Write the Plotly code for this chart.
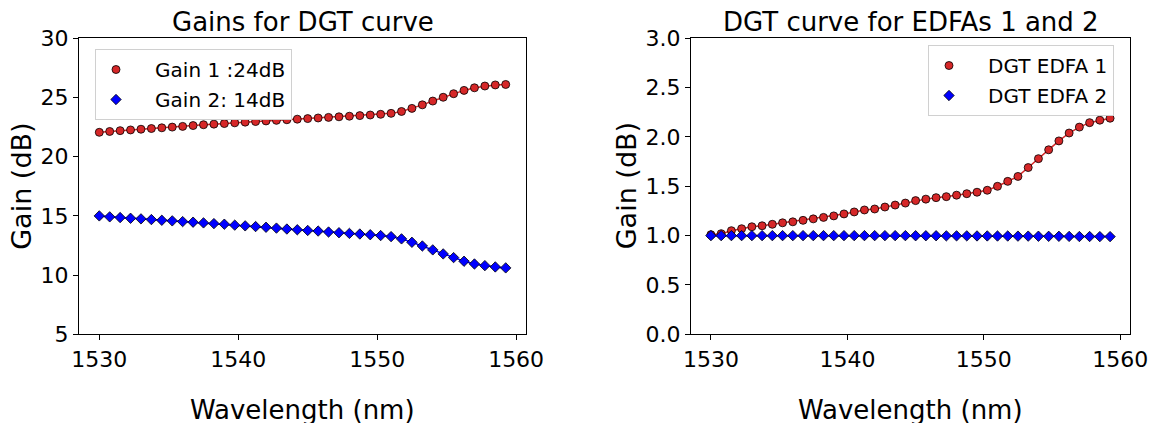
import plotly.graph_objects as go

W, H = 1156, 423

wavelength = [1530.0, 1530.75, 1531.5, 1532.25, 1533.0, 1533.75, 1534.5, 1535.25,
              1536.0, 1536.75, 1537.5, 1538.25, 1539.0, 1539.75, 1540.5, 1541.25,
              1542.0, 1542.75, 1543.5, 1544.25, 1545.0, 1545.75, 1546.5, 1547.25,
              1548.0, 1548.75, 1549.5, 1550.25, 1551.0, 1551.75, 1552.5, 1553.25,
              1554.0, 1554.75, 1555.5, 1556.25, 1557.0, 1557.75, 1558.5, 1559.25]

gain1 = [22.06, 22.13, 22.2, 22.26, 22.32, 22.38, 22.44, 22.5, 22.56, 22.63,
         22.7, 22.75, 22.8, 22.86, 22.92, 22.97, 23.02, 23.07, 23.12, 23.17,
         23.22, 23.27, 23.32, 23.37, 23.42, 23.47, 23.52, 23.58, 23.66, 23.82,
         24.08, 24.38, 24.7, 25.02, 25.32, 25.6, 25.82, 25.97, 26.06, 26.1]

gain2 = [15.0, 14.92, 14.86, 14.8, 14.75, 14.69, 14.63, 14.58, 14.52, 14.47,
         14.41, 14.35, 14.3, 14.22, 14.16, 14.1, 14.04, 13.97, 13.89, 13.83,
         13.77, 13.72, 13.64, 13.58, 13.52, 13.47, 13.41, 13.34, 13.25, 13.06,
         12.77, 12.46, 12.13, 11.79, 11.48, 11.17, 10.94, 10.8, 10.69, 10.61]

dgt1 = [1.01, 1.02, 1.05, 1.07, 1.09, 1.10, 1.115, 1.13, 1.14, 1.155,
        1.17, 1.185, 1.20, 1.22, 1.24, 1.26, 1.27, 1.29, 1.31, 1.33,
        1.355, 1.37, 1.385, 1.395, 1.41, 1.425, 1.44, 1.46, 1.50, 1.55,
        1.60, 1.69, 1.78, 1.87, 1.96, 2.04, 2.10, 2.145, 2.17, 2.19]

dgt2 = [1.0, 1.0, 1.0, 1.0, 1.0, 1.0, 1.0, 1.0, 1.0, 1.0,
        1.0, 1.0, 1.0, 1.0, 1.0, 1.0, 1.0, 1.0, 1.0, 1.0,
        0.999, 0.999, 0.999, 0.998, 0.998, 0.998, 0.997, 0.997, 0.996, 0.996,
        0.995, 0.995, 0.994, 0.993, 0.993, 0.992, 0.991, 0.991, 0.99, 0.99]

x_ticks = [1530, 1540, 1550, 1560]
left_yticks = [5, 10, 15, 20, 25, 30]
right_yticks = [0.0, 0.5, 1.0, 1.5, 2.0, 2.5, 3.0]

RED = "#d62728"
BLUE = "#0000ff"
FONT = "DejaVu Sans"

fig = go.Figure()


def add_series(x, y, color, symbol, size, name, xa, ya, legend, group):
    fig.add_trace(go.Scatter(x=x, y=y, mode="lines", line=dict(color=color, width=1.5),
                             xaxis=xa, yaxis=ya, showlegend=False, hoverinfo="skip"))
    fig.add_trace(go.Scatter(x=x, y=y, mode="markers", name=name, legendgroup=group,
                             marker=dict(color=color, symbol=symbol, size=size,
                                         line=dict(color="black", width=0.8)),
                             xaxis=xa, yaxis=ya, legend=legend))


NB = "\u00a0"
add_series(wavelength, gain1, RED, "circle", 8, NB * 3 + "Gain 1 :24dB", "x", "y", "legend", "a")
add_series(wavelength, gain2, BLUE, "diamond", 8, NB * 3 + "Gain 2: 14dB", "x", "y", "legend", "b")
add_series(wavelength, dgt1, RED, "circle", 8, NB * 3 + "DGT EDFA 1", "x2", "y2", "legend2", "c")
add_series(wavelength, dgt2, BLUE, "diamond", 8, NB * 3 + "DGT EDFA 2", "x2", "y2", "legend2", "d")


def px_x(p):
    return p / W


def px_y(p):
    return 1 - p / H


xl = [79, 526]
xr = [691, 1130]
ytop, ybot = 38.3, 334.3

axis_common = dict(showgrid=False, zeroline=False, showline=True, linecolor="black",
                   linewidth=1, mirror=True, ticks="outside", ticklen=5, tickwidth=1,
                   automargin=False,
                   tickcolor="black", tickfont=dict(family=FONT, size=22, color="black"))

xrange = [1528.54, 1560.71]
legend_common = dict(xanchor="left", yanchor="top", bgcolor="white",
                     bordercolor="#d0d0d0", borderwidth=1,
                     font=dict(family=FONT, size=20, color="black"), itemwidth=30,
                     tracegroupgap=1)
fig.update_layout(
    width=W, height=H,
    margin=dict(l=0, r=0, t=0, b=0, autoexpand=False),
    paper_bgcolor="white", plot_bgcolor="white",
    font=dict(family=FONT, color="black"),
    xaxis=dict(domain=[px_x(xl[0]), px_x(xl[1])], range=xrange, tickvals=x_ticks,
               anchor="y", **axis_common),
    yaxis=dict(domain=[px_y(ybot), px_y(ytop)], range=[5, 30], tickvals=left_yticks,
               anchor="x", **axis_common),
    xaxis2=dict(domain=[px_x(xr[0]), px_x(xr[1])], range=xrange, tickvals=x_ticks,
                anchor="y2", **axis_common),
    yaxis2=dict(domain=[px_y(ybot), px_y(ytop)], range=[0, 3], tickvals=right_yticks,
                tickformat=".1f", anchor="x2", **axis_common),
    legend=dict(x=px_x(95), y=px_y(49), **legend_common),
    legend2=dict(x=px_x(928), y=px_y(45), **legend_common),
)

ann = []
for cx, title in [((xl[0] + xl[1]) / 2, "Gains for DGT curve"),
                  ((xr[0] + xr[1]) / 2, "DGT curve for EDFAs 1 and 2")]:
    ann.append(dict(x=px_x(cx), y=px_y(22), xref="paper", yref="paper", text=title,
                    showarrow=False, xanchor="center", yanchor="middle",
                    font=dict(family=FONT, size=26, color="black")))
    ann.append(dict(x=px_x(cx), y=px_y(410), xref="paper", yref="paper",
                    text="Wavelength (nm)", showarrow=False, xanchor="center",
                    yanchor="middle", font=dict(family=FONT, size=26, color="black")))
for cx in [21.5, 626]:
    ann.append(dict(x=px_x(cx), y=px_y((ytop + ybot) / 2), xref="paper", yref="paper",
                    text="Gain (dB)", showarrow=False, textangle=-90, xanchor="center",
                    yanchor="middle", font=dict(family=FONT, size=27, color="black")))
fig.update_layout(annotations=ann)

fig.write_html("out.html")
